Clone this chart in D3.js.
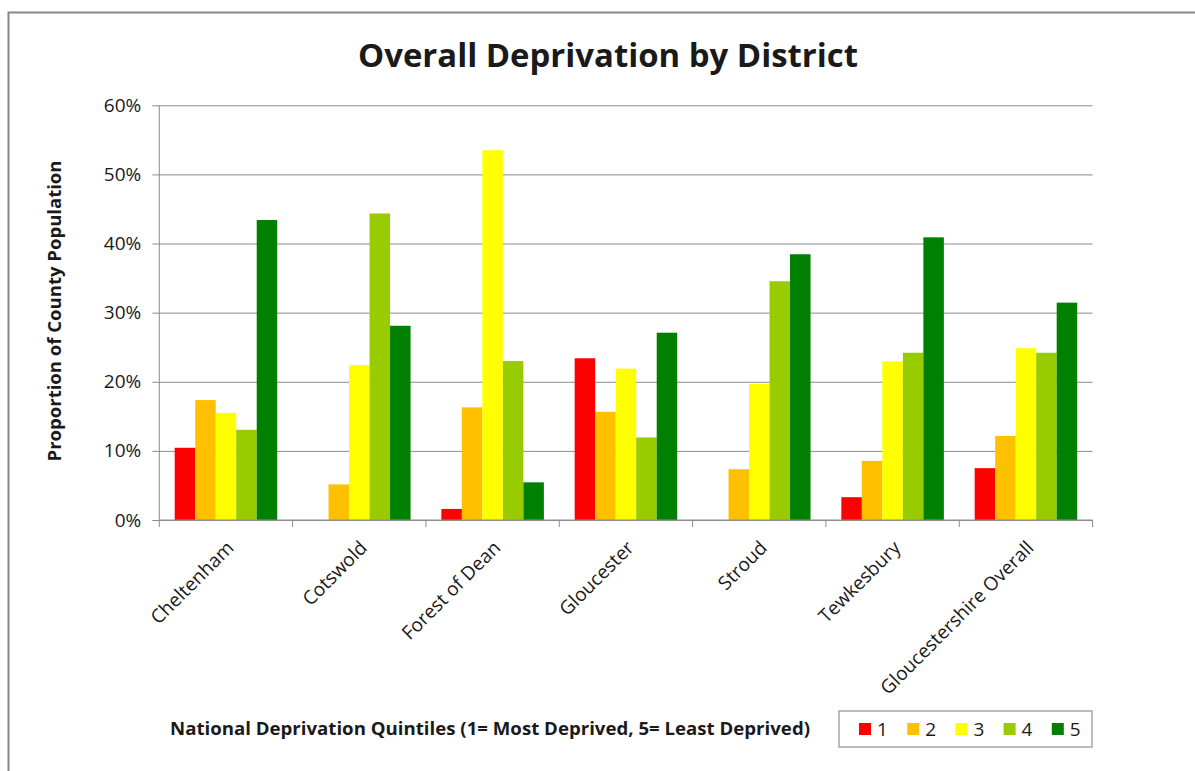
<!DOCTYPE html>
<html>
<head>
<meta charset="utf-8">
<script src="https://cdn.jsdelivr.net/npm/d3@7"></script>
<style>
  body { margin: 0; background: #fff; }
  text { font-family: "Open Sans", sans-serif; fill: #1a1a1a; }
</style>
</head>
<body>
<div id="chart"></div>
<script>
// data (percent of county population)
const districts = ['Cheltenham', 'Cotswold', 'Forest of Dean', 'Gloucester', 'Stroud', 'Tewkesbury', 'Gloucestershire Overall'];
const quintiles = ['1', '2', '3', '4', '5'];
const q1 = [10.45, 0, 1.6, 23.4, 0, 3.3, 7.5];
const q2 = [17.35, 5.15, 16.3, 15.65, 7.35, 8.55, 12.15];
const q3 = [15.5, 22.4, 53.5, 21.9, 19.7, 22.95, 24.85];
const q4 = [13.05, 44.35, 23.0, 11.95, 34.55, 24.2, 24.2];
const q5 = [43.4, 28.1, 5.45, 27.1, 38.45, 40.9, 31.45];
const yTicks = [0, 10, 20, 30, 40, 50, 60];
const colours = ['#ff0000', '#ffc000', '#ffff00', '#99cc00', '#008000'];

const series = [q1, q2, q3, q4, q5];

const width = 1195;
const height = 771;
const margin = { top: 105.3, right: 102.4, bottom: 251, left: 159.3 };
const graphWidth = width - margin.left - margin.right;
const graphHeight = height - margin.top - margin.bottom;

const svg = d3.select('#chart')
    .append('svg')
    .attr('width', width)
    .attr('height', height);

svg.append('rect')
    .attr('width', width).attr('height', height)
    .attr('fill', '#fff');

// outer frame (runs off the right and bottom edges)
svg.append('rect')
    .attr('x', 8.5).attr('y', 12.5)
    .attr('width', 1300).attr('height', 900)
    .attr('fill', 'none')
    .attr('stroke', '#888')
    .attr('stroke-width', 2);

svg.append('text')
    .attr('x', 608).attr('y', 67)
    .attr('text-anchor', 'middle')
    .attr('font-size', 32)
    .attr('font-weight', 'bold')
    .attr('textLength', 500)
    .attr('lengthAdjust', 'spacingAndGlyphs')
    .text('Overall Deprivation by District');

const chart = svg.append('g')
    .attr('transform', `translate(${margin.left}, ${margin.top})`);

// scales
const x0 = d3.scaleBand()
    .domain(districts)
    .range([0, graphWidth]);

const step = x0.bandwidth();
const gap = step * 0.231;

const x1 = d3.scaleBand()
    .domain(quintiles)
    .range([gap / 2, step - gap / 2]);

const y = d3.scaleLinear()
    .domain([0, 60])
    .range([graphHeight, 0]);

// gridlines + y axis
const yAxis = d3.axisLeft(y)
    .tickValues(yTicks)
    .tickSize(-graphWidth)
    .tickFormat(d => d + '%');

const yAxisGroup = chart.append('g').call(yAxis);
yAxisGroup.select('.domain').remove();
yAxisGroup.selectAll('line')
    .attr('x1', -7)
    .attr('stroke', '#8c8c8c');
yAxisGroup.selectAll('text')
    .attr('x', -18)
    .attr('font-size', 19)
    .attr('font-family', '"Open Sans", sans-serif')
    .attr('fill', '#1a1a1a');

chart.append('line')
    .attr('x1', 0).attr('x2', 0)
    .attr('y1', 0).attr('y2', graphHeight)
    .attr('stroke', '#8c8c8c');

// bars
const groups = chart.selectAll('g.district')
    .data(districts)
    .enter()
    .append('g')
    .attr('class', 'district')
    .attr('transform', d => `translate(${x0(d)}, 0)`);

groups.selectAll('rect')
    .data((d, i) => series.map((s, k) => ({ q: quintiles[k], v: s[i], c: colours[k] })))
    .enter()
    .append('rect')
    .attr('x', d => x1(d.q))
    .attr('width', x1.bandwidth())
    .attr('y', d => y(d.v))
    .attr('height', d => graphHeight - y(d.v))
    .attr('fill', d => d.c);

// x axis
const xAxisGroup = chart.append('g')
    .attr('transform', `translate(0, ${graphHeight})`);

xAxisGroup.append('line')
    .attr('x1', 0).attr('x2', graphWidth)
    .attr('stroke', '#8c8c8c');

xAxisGroup.selectAll('line.tick')
    .data(d3.range(districts.length + 1))
    .enter()
    .append('line')
    .attr('class', 'tick')
    .attr('x1', i => i * step).attr('x2', i => i * step)
    .attr('y1', 0).attr('y2', 7)
    .attr('stroke', '#8c8c8c');

xAxisGroup.selectAll('text')
    .data(districts)
    .enter()
    .append('text')
    .attr('font-size', 19)
    .attr('text-anchor', 'end')
    .attr('transform', d => `translate(${x0(d) + step / 2 + 9}, 29) rotate(-45)`)
    .text(d => d);

// y axis title
svg.append('text')
    .attr('transform', 'translate(61, 311) rotate(-90)')
    .attr('text-anchor', 'middle')
    .attr('font-size', 17)
    .attr('font-weight', 'bold')
    .attr('textLength', 301)
    .attr('lengthAdjust', 'spacingAndGlyphs')
    .text('Proportion of County Population');

// x axis title
svg.append('text')
    .attr('x', 490).attr('y', 735)
    .attr('text-anchor', 'middle')
    .attr('font-size', 17)
    .attr('font-weight', 'bold')
    .attr('textLength', 640)
    .attr('lengthAdjust', 'spacingAndGlyphs')
    .text('National Deprivation Quintiles (1= Most Deprived, 5= Least Deprived)');

// legend
const legend = svg.append('g')
    .attr('transform', 'translate(839, 711)');

legend.append('rect')
    .attr('width', 253).attr('height', 36)
    .attr('fill', '#fff')
    .attr('stroke', '#a6a6a6')
    .attr('stroke-width', 1.5);

const items = legend.selectAll('g.item')
    .data(quintiles)
    .enter()
    .append('g')
    .attr('class', 'item')
    .attr('transform', (d, i) => `translate(${20 + i * 48.2}, 12)`);

items.append('rect')
    .attr('width', 12).attr('height', 12)
    .attr('fill', (d, i) => colours[i]);

items.append('text')
    .attr('x', 18).attr('y', 12.5)
    .attr('font-size', 19)
    .text(d => d);
</script>
</body>
</html>
